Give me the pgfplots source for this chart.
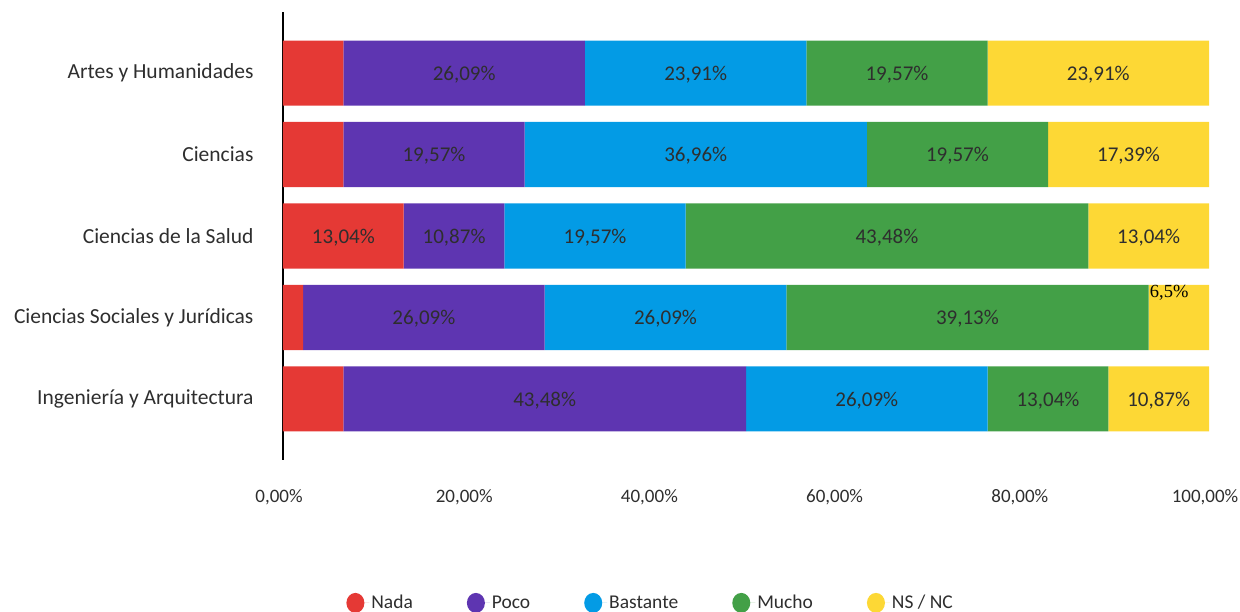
\documentclass[border=0pt]{standalone}
\usepackage{pgfplots}
\usepackage{pgfplotstable}
\pgfplotsset{compat=1.18}
\usepackage{fontspec}
\setmainfont{Carlito}
\newfontfamily\serifl{Liberation Serif}
\definecolor{cNada}{HTML}{E53935}
\definecolor{cPoco}{HTML}{5E35B1}
\definecolor{cBast}{HTML}{039BE5}
\definecolor{cMucho}{HTML}{43A047}
\definecolor{cNS}{HTML}{FDD835}
\definecolor{txt}{HTML}{2E2E2E}

\pgfplotstableread{
y nada poco bastante mucho nsnc
0 6.52 26.09 23.91 19.57 23.91
1 6.52 19.57 36.96 19.57 17.39
2 13.04 10.87 19.57 43.48 13.04
3 2.17 26.09 26.09 39.13 6.52
4 6.52 43.48 26.09 13.04 10.87
}\data

% label positions (segment midpoints) and texts
\pgfplotstableread{
x y label
19.565 0 26,09
44.565 0 23,91
66.305 0 19,57
88.045 0 23,91
16.305 1 19,57
44.57 1 36,96
72.835 1 19,57
91.31 1 17,39
6.52 2 13,04
18.475 2 10,87
33.695 2 19,57
65.22 2 43,48
93.48 2 13,04
15.215 3 26,09
41.305 3 26,09
73.915 3 39,13
28.26 4 43,48
63.045 4 26,09
82.61 4 13,04
94.565 4 10,87
}\labels

\pgfplotstableread{
x y label
93.6 2.6 6,5
}\labelsb

\pgfplotsset{
  common/.style={
    scale only axis, width=926bp, height=448bp,
    xmin=0, xmax=100, ymin=-0.75, ymax=4.75, y dir=reverse,
  }
}

\begin{document}
\begin{tikzpicture}
\begin{axis}[common,
  xbar stacked, bar width=0.8,
  axis x line=bottom, axis y line=left,
  axis line style={-},
  x axis line style={draw=none},
  y axis line style={black, line width=1.6bp},
  major tick length=0,
  xtick={0,20,40,60,80,100},
  xticklabels={{0,00\%},{20,00\%},{40,00\%},{60,00\%},{80,00\%},{100,00\%}},
  xticklabel style={font=\fontsize{19bp}{22bp}\selectfont, text=txt, yshift=-26bp, xshift=-4bp},
  ytick={0,1,2,3,4},
  yticklabels={Artes y Humanidades, Ciencias, Ciencias de la Salud, Ciencias Sociales y Jurídicas, Ingeniería y Arquitectura},
  yticklabel style={font=\fontsize{21.5bp}{24bp}\selectfont, text=txt, xshift=-26bp},
  legend style={at={(0.397,-0.319)}, anchor=center, legend columns=5, draw=none,
    font=\fontsize{19.5bp}{22bp}\selectfont, text=txt,
    /tikz/every even column/.append style={column sep=52bp}},
  legend image code/.code={\fill[#1] (0bp,0bp) ellipse (9bp and 10bp); \path (-9bp,0bp) -- (14bp,0bp);},
]
\addplot[fill=cNada, draw=none] table[x=nada, y=y] {\data};
\addplot[fill=cPoco, draw=none] table[x=poco, y=y] {\data};
\addplot[fill=cBast, draw=none] table[x=bastante, y=y] {\data};
\addplot[fill=cMucho, draw=none] table[x=mucho, y=y] {\data};
\addplot[fill=cNS, draw=none] table[x=nsnc, y=y] {\data};
\legend{Nada, Poco, Bastante, Mucho, NS / NC}
\end{axis}
\begin{axis}[common, hide axis]
\addplot[only marks, mark=none, nodes near coords={\pgfplotspointmeta\%},
  point meta=explicit symbolic,
  every node near coord/.style={anchor=center, yshift=-1.5bp, font=\fontsize{21bp}{24bp}\selectfont, text=txt}]
  table[x=x, y=y, meta=label] {\labels};
\addplot[only marks, mark=none, nodes near coords={\pgfplotspointmeta\%},
  point meta=explicit symbolic,
  every node near coord/.style={anchor=north west, inner sep=0pt, font=\serifl\fontsize{18.5bp}{20bp}\selectfont, text=black}]
  table[x=x, y=y, meta=label] {\labelsb};
\coordinate (sw) at (rel axis cs:0,0);
\end{axis}
\pgfresetboundingbox
\path[use as bounding box] ([shift={(-283bp,-152bp)}]sw) rectangle ([shift={(957bp,460bp)}]sw);
\end{tikzpicture}
\end{document}
